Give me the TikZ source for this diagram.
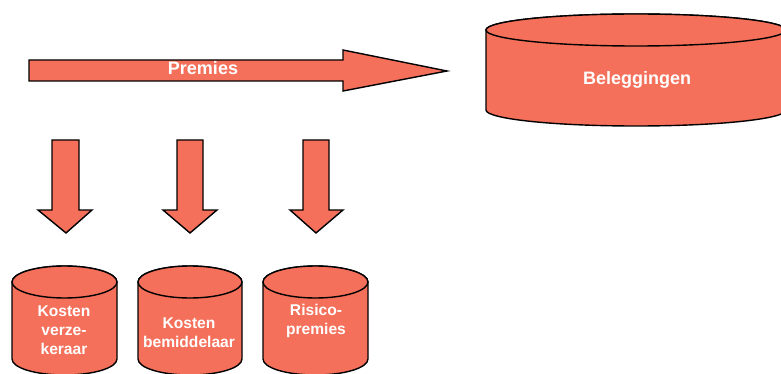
\documentclass[tikz,border=0pt]{standalone}
\usepackage{fontspec}
\setmainfont{Liberation Sans}
\definecolor{salmon}{HTML}{F4705A}
\tikzset{
  shapefill/.style={fill=salmon,draw=black,line width=1.4pt,line join=miter},
  bigtxt/.style={text=white,font=\fontsize{18}{20}\selectfont\bfseries,align=center,inner sep=0pt},
  smalltxt/.style={text=white,font=\fontsize{15.6}{19}\selectfont\bfseries,align=center,inner sep=0pt},
}
\newcommand{\mycyl}[5]{% xl, xr, ytop, ybot, ry
  \path[shapefill] (#1,#3) -- (#1,#4) arc[start angle=180,end angle=0,x radius={(#2-#1)/2},y radius=#5] -- (#2,#3) arc[start angle=0,end angle=-180,x radius={(#2-#1)/2},y radius=#5] -- cycle;
  \path[shapefill] ({(#1+#2)/2},#3) ellipse[x radius={(#2-#1)/2},y radius=#5];
}
\begin{document}
\begin{tikzpicture}[x=1pt,y=-1pt]
\useasboundingbox (0,0) rectangle (781,374);
\clip (0,0) rectangle (781,374);
% Premies arrow
\path[shapefill] (29,60) -- (343,60) -- (343,50) -- (447,71) -- (343,91) -- (343,81) -- (29,81) -- cycle;
\node[bigtxt] (premies) at (203,68) {Premies};
% Beleggingen
\mycyl{486}{786}{30}{110}{16}
\node[bigtxt] (beleg) at (637,80) {Beleggingen};
% down arrows
\path[shapefill] (52,140) -- (79,140) -- (79,210) -- (92,210) -- (66,233) -- (38,210) -- (52,210) -- cycle;
\path[shapefill] (177,140) -- (203,140) -- (203,210) -- (217,210) -- (190,233) -- (163,210) -- (177,210) -- cycle;
\path[shapefill] (303,140) -- (329,140) -- (329,210) -- (343,210) -- (316,233) -- (290,210) -- (303,210) -- cycle;
% small cylinders
\mycyl{12}{117}{282}{359}{16}
\mycyl{138}{242}{282}{359}{16}
\mycyl{263}{368}{282}{359}{16}
\node[smalltxt] (kv) at (64,330) {Kosten\\verze-\\keraar};
\node[smalltxt] (kb) at (189,333) {Kosten\\bemiddelaar};
\node[smalltxt] (rp) at (316,320.5) {Risico-\\premies};
\end{tikzpicture}
\end{document}
